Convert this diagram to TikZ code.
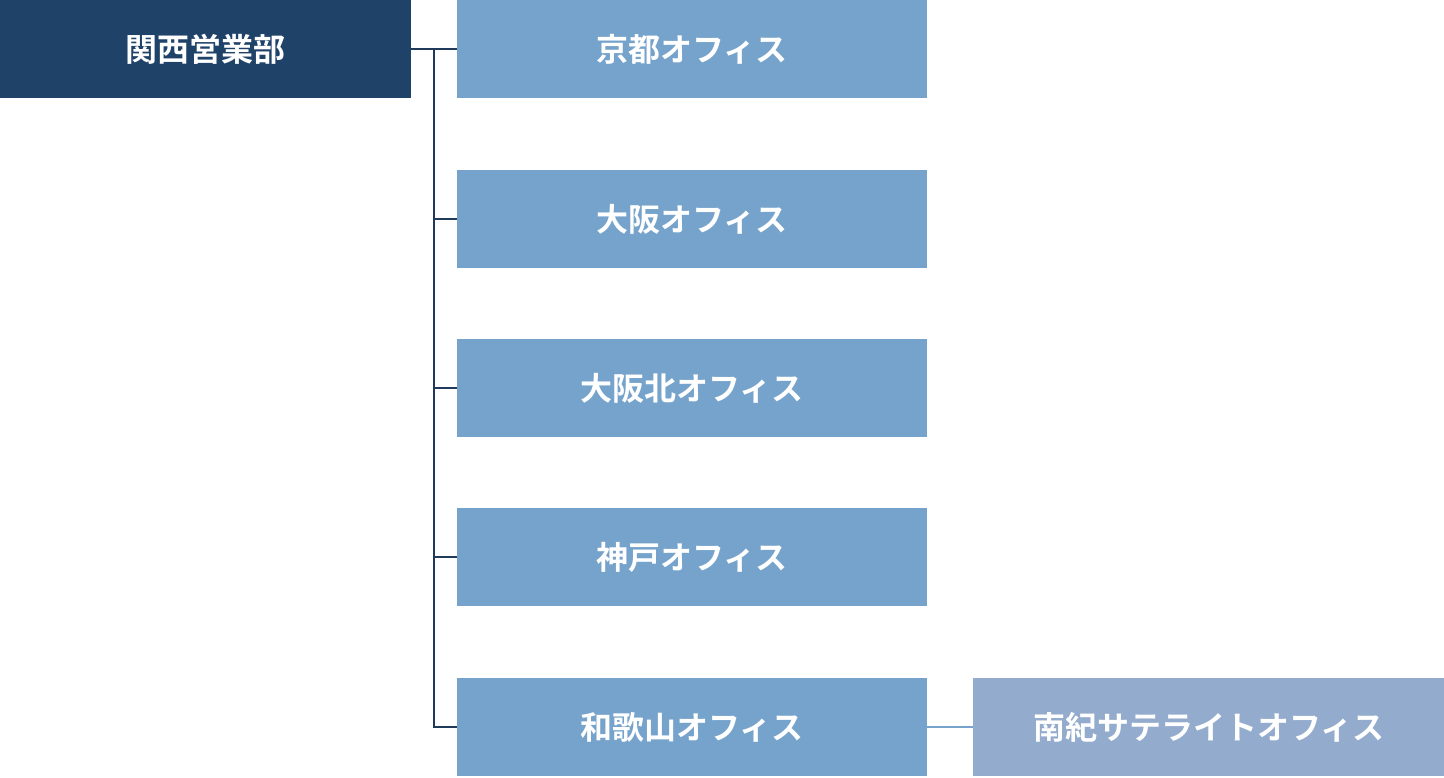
\documentclass[tikz,border=0pt]{standalone}
\usepackage{fontspec}
\newfontfamily\cjk[BoldFont={Noto Sans CJK JP Bold}]{Noto Sans CJK JP}
\definecolor{dark}{HTML}{1F4269}
\definecolor{mid}{HTML}{76A3CB}
\definecolor{sat}{HTML}{93ABCC}
\definecolor{ln}{HTML}{1F3A5A}
\begin{document}
\begin{tikzpicture}[x=1pt,y=-1pt,
  box/.style={draw=none,minimum width=470pt,minimum height=98pt,inner sep=0pt,text=white,font=\cjk\bfseries\fontsize{32}{38}\selectfont,anchor=north west,fill=mid},
  conn/.style={draw=ln,line width=2pt}]
\useasboundingbox (0,0) rectangle (1444,777);
\node[box,fill=dark,minimum width=411pt] (root) at (0,0) {関西営業部};
\node[box] (a) at (457,0) {京都オフィス};
\node[box] (b) at (457,170) {大阪オフィス};
\node[box] (c) at (457,339) {大阪北オフィス};
\node[box] (d) at (457,508) {神戸オフィス};
\node[box] (e) at (457,678) {和歌山オフィス};
\node[box,fill=sat,minimum width=471pt] (f) at (973,678) {南紀サテライトオフィス};
\coordinate (j) at (434,49);
\draw[conn] (root.east) -- (a.west);
\draw[conn] (j) |- (e.west);
\foreach \n in {b,c,d} \draw[conn] (\n.west) -- ++(-23,0);
\draw[draw=mid,line width=2pt] (e.east) -- (f.west);
\end{tikzpicture}
\end{document}
